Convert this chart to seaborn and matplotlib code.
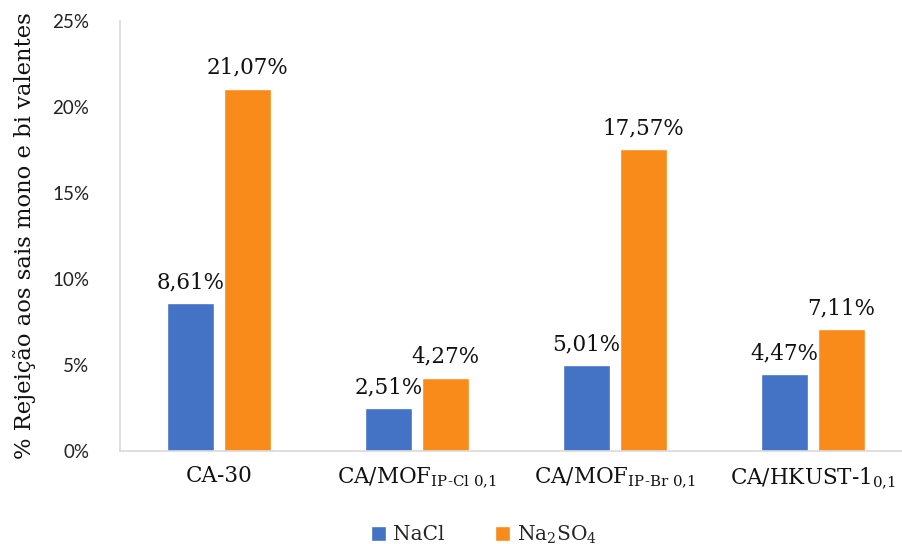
import matplotlib
matplotlib.use("Agg")
import matplotlib.pyplot as plt
import seaborn as sns
import pandas as pd
from matplotlib.ticker import PercentFormatter, MultipleLocator

# Data
membranes = ["CA-30", "CA/MOF-IP-Cl", "CA/MOF-IP-Br", "CA/HKUST-1"]
tick_labels = [
    "CA-30",
    r"CA/MOF$_{\text{IP-Cl 0,1}}$",
    r"CA/MOF$_{\text{IP-Br 0,1}}$",
    r"CA/HKUST-1$_{\text{0,1}}$",
]
nacl = [8.61, 2.51, 5.01, 4.47]
na2so4 = [21.07, 4.27, 17.57, 7.11]
salts = ["NaCl", r"Na$_{\text{2}}$SO$_{\text{4}}$"]
colors = ["#4472C4", "#F98B1A"]

df = pd.DataFrame({
    "membrane": membranes * 2,
    "salt": [salts[0]] * 4 + [salts[1]] * 4,
    "value": [v / 100 for v in nacl + na2so4],
})

sns.set_style("white")
serif = "DejaVu Serif"
sans = "Lato"
plt.rcParams["mathtext.fontset"] = "custom"
plt.rcParams["mathtext.rm"] = serif
plt.rcParams["mathtext.it"] = serif + ":italic"
plt.rcParams["mathtext.bf"] = serif + ":bold"

fig = plt.figure(figsize=(9.02, 5.44), dpi=100)
ax = fig.add_axes([120 / 902, 1 - 451 / 544, 1 - 120 / 902, (451 - 21) / 544])

sns.barplot(data=df, x="membrane", y="value", hue="salt", palette=colors,
            width=0.58, gap=0.19, ax=ax, legend=True, saturation=1)

ax.set_ylim(0, 0.25)
ax.set_xlim(-0.5, (902 - 120) / 198 - 0.5)
ax.yaxis.set_major_locator(MultipleLocator(0.05))
ax.yaxis.set_major_formatter(PercentFormatter(1.0, decimals=0))
for lab in ax.get_yticklabels():
    lab.set_fontfamily(sans)
    lab.set_fontsize(13.5)
    lab.set_color("#222222")
ax.tick_params(axis="y", length=0, pad=22)
ax.tick_params(axis="x", length=0, pad=10)
ax.set_xticks(range(4))
ax.set_xticklabels(tick_labels, fontfamily=serif, fontsize=15.5, color="#111111")
ax.set_xlabel("")
ax.set_ylabel("% Rejeição aos sais mono e bi valentes", fontfamily=serif,
              fontsize=16.3, color="#111111", labelpad=12)

for side in ["top", "right"]:
    ax.spines[side].set_visible(False)
for side in ["left", "bottom"]:
    ax.spines[side].set_color("#D9D9D9")
    ax.spines[side].set_linewidth(1.2)

# Value labels above each bar
for container in ax.containers:
    labels = [f"{b.get_height() * 100:.2f}%".replace(".", ",") for b in container]
    ax.bar_label(container, labels=labels, padding=7, fontfamily=serif,
                 fontsize=15.5, color="#111111")

handles, labels = ax.get_legend_handles_labels()
ax.legend(handles, labels, loc="lower center", bbox_to_anchor=(0.5 - 27 / 782, -0.262),
          ncol=2, frameon=False, prop={"family": serif, "size": 14.5},
          handlelength=0.75, handleheight=0.75, handletextpad=0.35, columnspacing=2.5)

fig.savefig("out.png", dpi=100)
